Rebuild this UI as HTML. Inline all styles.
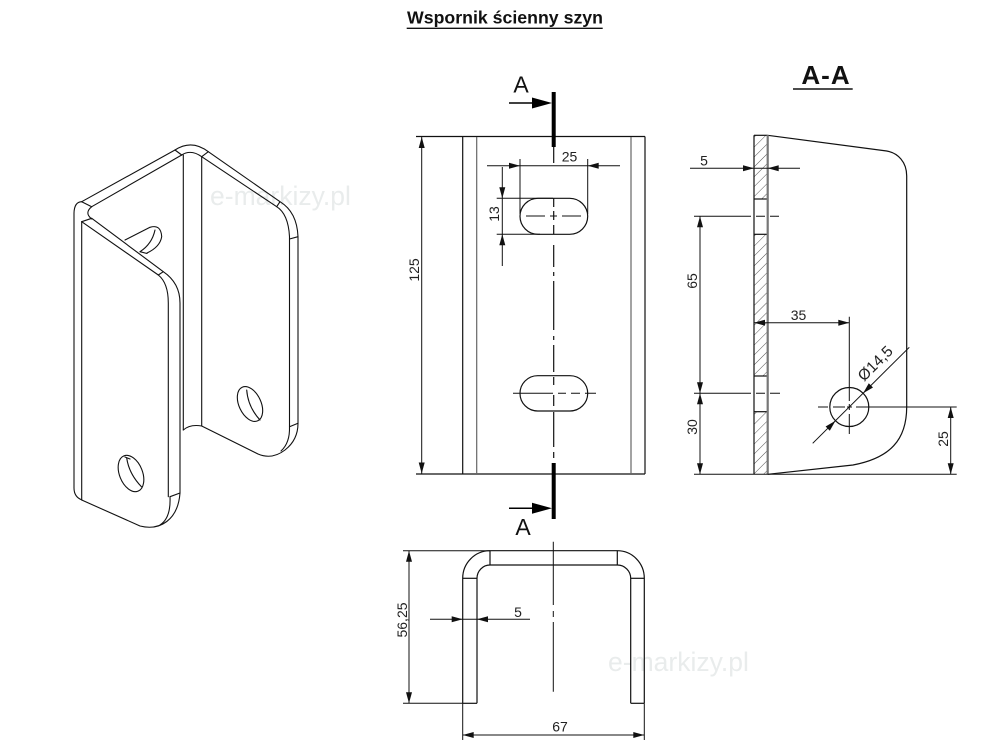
<!DOCTYPE html>
<html>
<head>
<meta charset="utf-8">
<style>
html,body{margin:0;padding:0;background:#fff;}
svg{display:block;}
text{font-family:"Liberation Sans",Arial,sans-serif;}
</style>
</head>
<body>
<svg width="1000" height="750" viewBox="0 0 1000 750" xmlns="http://www.w3.org/2000/svg">
<defs>
<pattern id="hatch" width="7" height="7" patternUnits="userSpaceOnUse" patternTransform="rotate(45)">
<line x1="0" y1="0" x2="0" y2="7" stroke="#444" stroke-width="0.9"/>
</pattern>
</defs>
<rect width="1000" height="750" fill="#fff"/>

<!-- watermarks -->
<text x="210" y="205" font-size="26.5" fill="#e9ecec">e-markizy.pl</text>
<text x="608" y="671" font-size="26.5" fill="#e9ecec">e-markizy.pl</text>

<!-- Title -->
<text x="505" y="23.5" font-size="17.5" font-weight="bold" text-anchor="middle" fill="#111" textLength="196" lengthAdjust="spacingAndGlyphs">Wspornik ścienny szyn</text>
<line x1="406.7" y1="28.3" x2="602.7" y2="28.3" stroke="#111" stroke-width="1.3"/>

<!-- ============ ISO VIEW ============ -->
<g fill="none" stroke="#111" stroke-width="1.1" stroke-linejoin="round" stroke-linecap="round">
<path d="M74,488 L74,213.3 Q74.2,202 81.7,201.7"/>
<path d="M74,488 Q74,497 82,500"/>
<path d="M81.7,221.7 L81.7,500"/>
<path d="M81.7,500 L140,526 C160,531 178,520 180,493"/>
<path d="M170,496.7 Q171,518 160,525"/>
<path d="M170,496.7 L180,493"/>
<path d="M91.7,218.3 L163.3,271.7 Q180,283 180,303 L180,493"/>
<path d="M81.7,221.7 L158.3,275 Q168.3,283 168.3,303 L168.3,496.7"/>
<path d="M158.3,275 L163.3,271.7"/>
<path d="M81.7,201.7 L175,150"/>
<path d="M91.7,206.7 L181.7,155"/>
<path d="M81.7,201.7 L91.7,206.7"/>
<path d="M91.7,206.7 Q84,213 91.7,219"/>
<path d="M81.7,221.7 L91.7,218.3"/>
<path d="M175,150 Q191.7,139 208.3,151.7"/>
<path d="M181.7,155 Q191,149 201.7,156.7"/>
<path d="M175,150 L181.7,155"/>
<path d="M208.3,151.7 L201.7,156.7"/>
<path d="M183.3,155 L183.3,430"/>
<path d="M201.7,157 L201.7,426"/>
<path d="M183.3,430 Q190,424 201.7,426"/>
<path d="M208.3,151.7 L280,201.7 Q297,212 298,236.7 L298,423.3"/>
<path d="M201.7,156.7 L276.7,206.7 Q288.3,214 289.5,236.7 L289.5,426.7"/>
<path d="M280,201.7 L276.7,206.7"/>
<path d="M289.5,239 L298,236.7"/>
<path d="M201.7,426 L258,454 Q272,460 285,450 Q298,440 298,423.3"/>
<path d="M289.5,426.7 Q290,443 281,451"/>
<path d="M289.5,426.7 L298,423.3"/>
<path d="M125,240 L150,227.3 Q161,224 161.7,236.7 Q160,247 147,253"/>
<path d="M155,230 Q152,244 140,251.7"/>
<path d="M140,251.7 L147,253.5"/>
<ellipse cx="131" cy="473.5" rx="11.5" ry="19" transform="rotate(-22 131 473.5)"/>
<path d="M126.7,458 Q129,474 141.7,487"/>
<path d="M125,457 L130,459"/>
<ellipse cx="250" cy="404" rx="11" ry="18.5" transform="rotate(-25 250 404)"/>
<path d="M246.7,390 Q248,407 260,420"/>
</g>

<!-- ============ FRONT VIEW ============ -->
<g fill="none" stroke="#111" stroke-width="1.2">
<line x1="416" y1="136.5" x2="645" y2="136.5"/>
<line x1="416" y1="474" x2="645" y2="474"/>
<line x1="462.7" y1="136.5" x2="462.7" y2="474"/>
<line x1="645" y1="136.5" x2="645" y2="474"/>
<rect x="520" y="198.3" width="67.7" height="36" rx="18" ry="18"/>
<rect x="520" y="375.7" width="67.7" height="35.3" rx="17.7" ry="17.7"/>
</g>
<g stroke="#666" stroke-width="1.2">
<line x1="476.7" y1="137" x2="476.7" y2="474"/>
<line x1="631" y1="137" x2="631" y2="474"/>
</g>
<g stroke="#111" stroke-width="1" fill="none">
<line x1="421.7" y1="137" x2="421.7" y2="474"/>
<line x1="487" y1="165.7" x2="620" y2="165.7"/>
<line x1="520" y1="159" x2="520" y2="214"/>
<line x1="587.7" y1="159" x2="587.7" y2="214"/>
<line x1="502.3" y1="167" x2="502.3" y2="266"/>
<line x1="496.7" y1="198.3" x2="553" y2="198.3"/>
<line x1="496.7" y1="234.3" x2="540" y2="234.3"/>
</g>
<g fill="#111">
<polygon points="421.7,137 418.7,148 424.7,148"/>
<polygon points="421.7,473.5 418.7,462.5 424.7,462.5"/>
<polygon points="520,165.7 509,162.7 509,168.7"/>
<polygon points="587.7,165.7 598.7,162.7 598.7,168.7"/>
<polygon points="502.3,198.3 499.3,187.3 505.3,187.3"/>
<polygon points="502.3,234.3 499.3,245.3 505.3,245.3"/>
</g>
<path fill="none" stroke="#111" stroke-width="1.2" d="M553.7,147 V163 M553.7,198 V207 M553.7,211 V220 M553.7,225 V234 M553.7,245 V267 M553.7,272 V276 M553.7,281 V330 M553.7,336 V340 M553.7,345 V372 M553.7,377 V385 M553.7,395 V406 M553.7,412 V447 M553.7,452 V458"/>
<path fill="none" stroke="#111" stroke-width="1" d="M526,216 H545 M550,216 H557 M562,216 H581 M513,393.3 H553 M558,393.3 H566 M571,393.3 H580 M585,393.3 H596"/>
<line x1="553.7" y1="92" x2="553.7" y2="147" stroke="#000" stroke-width="4"/>
<line x1="553.7" y1="463" x2="553.7" y2="519" stroke="#000" stroke-width="4"/>
<line x1="509" y1="103" x2="540" y2="103" stroke="#000" stroke-width="1.5"/>
<line x1="509" y1="508.3" x2="540" y2="508.3" stroke="#000" stroke-width="1.5"/>
<polygon points="552,103 532,97.5 532,108.5" fill="#000"/>
<polygon points="552,508.3 532,502.8 532,513.8" fill="#000"/>
<text x="521" y="92.3" font-size="23" text-anchor="middle" fill="#111">A</text>
<text x="523" y="535" font-size="23" text-anchor="middle" fill="#111">A</text>
<g font-size="14" fill="#222" text-anchor="middle">
<text x="569.5" y="161.7">25</text>
<text transform="translate(414,270) rotate(-90)" x="0" y="5">125</text>
<text transform="translate(494,214) rotate(-90)" x="0" y="5">13</text>
</g>

<!-- ============ SECTION A-A ============ -->
<text x="826" y="84" font-size="26" font-weight="bold" text-anchor="middle" fill="#111" letter-spacing="1">A-A</text>
<line x1="793" y1="89" x2="852.7" y2="89" stroke="#111" stroke-width="1.5"/>
<g fill="url(#hatch)" stroke="none">
<rect x="754" y="135.3" width="13.7" height="63.7"/>
<rect x="754" y="234.3" width="13.7" height="141.7"/>
<rect x="754" y="411.7" width="13.7" height="62.6"/>
</g>
<g fill="none" stroke="#111" stroke-width="1.2">
<line x1="754" y1="135.3" x2="754" y2="474.3"/>
<line x1="754" y1="135.3" x2="767.7" y2="135.3"/>
<line x1="754" y1="199" x2="767.7" y2="199"/>
<line x1="754" y1="234.3" x2="767.7" y2="234.3"/>
<line x1="754" y1="376" x2="767.7" y2="376"/>
<line x1="754" y1="411.7" x2="767.7" y2="411.7"/>
<path d="M767.7,135.3 L886.7,151 C898,153 906.7,162 906.7,176 L906.7,406.7 C906.7,440 890,458 853,465 L767.7,474.3"/>
<circle cx="849.3" cy="407" r="19.5"/>
</g>
<line x1="767.7" y1="135.3" x2="767.7" y2="474.3" stroke="#777" stroke-width="2.2"/>
<g stroke="#111" stroke-width="1" fill="none">
<line x1="690" y1="168.3" x2="800" y2="168.3"/>
<line x1="694" y1="216.3" x2="751" y2="216.3"/>
<path d="M756,216.3 H765 M770,216.3 H779"/>
<line x1="694" y1="393.3" x2="751" y2="393.3"/>
<path d="M756,393.3 H765 M770,393.3 H780"/>
<line x1="700" y1="216.3" x2="700" y2="474.3"/>
<line x1="694" y1="474.3" x2="956.7" y2="474.3"/>
<line x1="754" y1="322.7" x2="849.3" y2="322.7"/>
<path d="M849.3,316.7 V401 M849.3,404 V410 M849.3,414 V434"/>
<path d="M818,407 H828 M833,407 H845 M847,407 H852 M856,407 H956.7"/>
<line x1="812.7" y1="443.3" x2="909.3" y2="347.3"/>
<line x1="950.7" y1="407" x2="950.7" y2="474.3"/>
</g>
<g fill="#111">
<polygon points="754,168.3 743,165.3 743,171.3"/>
<polygon points="767.7,168.3 778.7,165.3 778.7,171.3"/>
<polygon points="700,216.3 697,227.3 703,227.3"/>
<polygon points="700,393.3 697,382.3 703,382.3"/>
<polygon points="700,393.3 697,404.3 703,404.3"/>
<polygon points="700,474.3 697,463.3 703,463.3"/>
<polygon points="754,322.7 765,319.7 765,325.7"/>
<polygon points="849.3,322.7 838.3,319.7 838.3,325.7"/>
<polygon points="950.7,407 947.7,418 953.7,418"/>
<polygon points="950.7,474.3 947.7,463.3 953.7,463.3"/>
<polygon points="863.1,393.2 873,387.5 868.8,383.3"/>
<polygon points="835.5,420.8 829.8,430.7 825.6,426.5"/>
</g>
<g font-size="14" fill="#222" text-anchor="middle">
<text x="704" y="165.5">5</text>
<text x="798.5" y="320">35</text>
<text transform="translate(692,281) rotate(-90)" x="0" y="5">65</text>
<text transform="translate(692,427) rotate(-90)" x="0" y="5">30</text>
<text transform="translate(943,439) rotate(-90)" x="0" y="5">25</text>
</g>
<text transform="translate(864,382) rotate(-45)" x="0" y="0" font-size="15.5" fill="#222">Ø14,5</text>

<!-- ============ BOTTOM VIEW ============ -->
<g fill="none" stroke="#111" stroke-width="1.2">
<path d="M462.7,703.3 L462.7,578.3 A27.3 27.6 0 0 1 490,550.7 L617.3,550.7 A27 27.6 0 0 1 644.3,578.3 L644.3,703.3"/>
<path d="M477,703.3 L477,578.3 A13 13.3 0 0 1 490,565 L617.3,565 A13.4 13.3 0 0 1 630.7,578.3 L630.7,703.3"/>
<line x1="462.7" y1="703.3" x2="477" y2="703.3"/>
<line x1="630.7" y1="703.3" x2="644.3" y2="703.3"/>
<line x1="462.7" y1="578.3" x2="477" y2="578.3"/>
<line x1="630.7" y1="578.3" x2="644.3" y2="578.3"/>
<line x1="490" y1="550.7" x2="490" y2="565"/>
<line x1="617.3" y1="550.7" x2="617.3" y2="565"/>
</g>
<path fill="none" stroke="#111" stroke-width="1" d="M553.3,541.7 V605 M553.3,611 V617 M553.3,622 V691.7"/>
<g stroke="#111" stroke-width="1" fill="none">
<line x1="403" y1="550.7" x2="490" y2="550.7"/>
<line x1="403" y1="703.3" x2="462.7" y2="703.3"/>
<line x1="409" y1="550.7" x2="409" y2="703.3"/>
<line x1="430" y1="619.3" x2="530" y2="619.3"/>
<line x1="462.7" y1="703.3" x2="462.7" y2="740"/>
<line x1="644.3" y1="703.3" x2="644.3" y2="740"/>
<line x1="462.7" y1="735" x2="644.3" y2="735"/>
</g>
<g fill="#111">
<polygon points="409,550.7 406,561.7 412,561.7"/>
<polygon points="409,703.3 406,692.3 412,692.3"/>
<polygon points="462.7,619.3 451.7,616.3 451.7,622.3"/>
<polygon points="477,619.3 488,616.3 488,622.3"/>
<polygon points="462.7,735 473.7,732 473.7,738"/>
<polygon points="644.3,735 633.3,732 633.3,738"/>
</g>
<g font-size="14" fill="#222" text-anchor="middle">
<text x="518" y="617">5</text>
<text x="560" y="731.5">67</text>
<text transform="translate(402,620) rotate(-90)" x="0" y="5">56,25</text>
</g>
</svg>
</body>
</html>
